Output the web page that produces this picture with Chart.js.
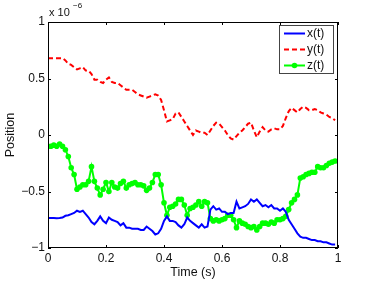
<!DOCTYPE html>
<html>
<head>
<meta charset="utf-8">
<script src="https://cdn.jsdelivr.net/npm/chart.js@4.4.1/dist/chart.umd.min.js"></script>
<style>
  html, body { margin: 0; padding: 0; background: #fff; }
  #wrap { width: 374px; height: 281px; }
</style>
</head>
<body>
<div id="wrap"><canvas id="posChart" width="374" height="281"></canvas></div>
<script>
// sample times (s)
const timeS = [0.00,0.01,0.02,0.03,0.04,0.05,0.06,0.07,0.08,0.09,
               0.10,0.11,0.12,0.13,0.14,0.15,0.16,0.17,0.18,0.19,
               0.20,0.21,0.22,0.23,0.24,0.25,0.26,0.27,0.28,0.29,
               0.30,0.31,0.32,0.33,0.34,0.35,0.36,0.37,0.38,0.39,
               0.40,0.41,0.42,0.43,0.44,0.45,0.46,0.47,0.48,0.49,
               0.50,0.51,0.52,0.53,0.54,0.55,0.56,0.57,0.58,0.59,
               0.60,0.61,0.62,0.63,0.64,0.65,0.66,0.67,0.68,0.69,
               0.70,0.71,0.72,0.73,0.74,0.75,0.76,0.77,0.78,0.79,
               0.80,0.81,0.82,0.83,0.84,0.85,0.86,0.87,0.88,0.89,
               0.90,0.91,0.92,0.93,0.94,0.95,0.96,0.97,0.98,0.99];

// positions in units of 1e-6
const xPos = [-0.735,-0.735,-0.735,-0.737,-0.735,-0.73,-0.715,-0.71,-0.70,-0.69,
              -0.67,-0.68,-0.67,-0.70,-0.73,-0.77,-0.79,-0.76,-0.72,-0.76,
              -0.78,-0.73,-0.75,-0.76,-0.77,-0.80,-0.78,-0.82,-0.82,-0.83,
              -0.83,-0.83,-0.84,-0.84,-0.81,-0.83,-0.85,-0.88,-0.87,-0.83,
              -0.76,-0.72,-0.76,-0.76,-0.77,-0.80,-0.82,-0.79,-0.73,-0.76,
              -0.78,-0.80,-0.82,-0.79,-0.82,-0.81,-0.66,-0.63,-0.66,-0.65,
              -0.68,-0.68,-0.70,-0.69,-0.69,-0.59,-0.65,-0.64,-0.63,-0.61,
              -0.57,-0.59,-0.57,-0.60,-0.63,-0.62,-0.64,-0.62,-0.65,-0.65,
              -0.67,-0.65,-0.68,-0.75,-0.79,-0.83,-0.87,-0.90,-0.91,-0.91,
              -0.92,-0.93,-0.93,-0.94,-0.94,-0.95,-0.95,-0.96,-0.97,-0.97];

const yPos = [0.68,0.68,0.68,0.68,0.68,0.68,0.66,0.63,0.62,0.60,
              0.58,0.59,0.60,0.57,0.57,0.54,0.49,0.49,0.47,0.46,
              0.49,0.51,0.47,0.46,0.46,0.44,0.42,0.40,0.40,0.40,
              0.38,0.36,0.35,0.34,0.33,0.34,0.35,0.36,0.35,0.31,
              0.22,0.12,0.13,0.14,0.19,0.20,0.16,0.12,0.08,0.04,
              0.00,0.04,0.03,0.02,0.02,0.00,0.04,0.08,0.11,0.10,
              0.07,0.04,0.00,-0.03,-0.04,-0.01,0.02,0.04,0.07,0.10,
              0.11,0.04,-0.02,0.03,0.07,0.04,0.03,0.05,0.06,0.05,
              0.05,0.08,0.15,0.21,0.24,0.22,0.20,0.23,0.25,0.24,
              0.22,0.22,0.23,0.22,0.20,0.19,0.18,0.16,0.15,0.13];

const zPos = [-0.10,-0.10,-0.09,-0.10,-0.08,-0.10,-0.13,-0.19,-0.29,-0.35,
              -0.48,-0.46,-0.44,-0.44,-0.41,-0.28,-0.41,-0.47,-0.53,-0.48,
              -0.42,-0.50,-0.42,-0.46,-0.47,-0.43,-0.41,-0.47,-0.44,-0.43,
              -0.42,-0.44,-0.44,-0.45,-0.49,-0.47,-0.42,-0.35,-0.35,-0.44,
              -0.60,-0.71,-0.64,-0.63,-0.61,-0.57,-0.57,-0.62,-0.71,-0.65,
              -0.64,-0.62,-0.59,-0.63,-0.59,-0.60,-0.74,-0.76,-0.75,-0.76,
              -0.75,-0.74,-0.71,-0.71,-0.75,-0.82,-0.76,-0.78,-0.79,-0.81,
              -0.82,-0.81,-0.84,-0.81,-0.78,-0.78,-0.79,-0.77,-0.78,-0.75,
              -0.75,-0.74,-0.72,-0.66,-0.60,-0.57,-0.53,-0.38,-0.37,-0.35,
              -0.34,-0.33,-0.33,-0.28,-0.29,-0.29,-0.27,-0.25,-0.24,-0.23];

const seriesNames = ['x(t)', 'y(t)', 'z(t)'];
const xTicks = [0, 0.2, 0.4, 0.6, 0.8, 1];
const yTicks = [-1, -0.5, 0, 0.5, 1];

const FONT = '"Liberation Sans", Arial, Helvetica, sans-serif';

function pts(vals) {
    return vals.map((v, i) => ({ x: timeS[i], y: v }));
}

function fmt(v) {
    const r = Number(v.toFixed(1));
    if (r === 0) return '0';
    return r < 0 ? '\u2212' + Math.abs(r) : String(r);
}

// box round the plot, with MATLAB style ticks pointing inwards
const axesBox = {
    id: 'axesBox',
    afterDatasetsDraw(chart) {
        const { ctx, chartArea: a, scales } = chart;
        ctx.save();
        ctx.strokeStyle = '#000';
        ctx.lineWidth = 1;
        ctx.strokeRect(Math.round(a.left) + 0.5, Math.round(a.top) + 0.5,
            Math.round(a.right - a.left) - 1, Math.round(a.bottom - a.top) - 1);
        ctx.beginPath();
        const len = 3;
        xTicks.forEach(t => {
            const px = Math.round(scales.x.getPixelForValue(t)) + 0.5;
            ctx.moveTo(px, a.bottom); ctx.lineTo(px, a.bottom - len);
            ctx.moveTo(px, a.top); ctx.lineTo(px, a.top + len);
        });
        yTicks.forEach(t => {
            const py = Math.round(scales.y.getPixelForValue(t)) + 0.5;
            ctx.moveTo(a.left, py); ctx.lineTo(a.left + len, py);
            ctx.moveTo(a.right, py); ctx.lineTo(a.right - len, py);
        });
        ctx.stroke();

        // exponent label
        ctx.fillStyle = '#111';
        ctx.textBaseline = 'middle';
        ctx.textAlign = 'left';
        ctx.font = '11px ' + FONT;
        ctx.fillText('x 10', a.left + 1, 13);
        ctx.font = '8px ' + FONT;
        ctx.fillText('\u22126', a.left + 25, 6);
        ctx.restore();
    }
};

// legend drawn in the top right corner of the axes
const boxLegend = {
    id: 'boxLegend',
    afterDraw(chart) {
        const { ctx } = chart;
        const bx = 279.5, by = 25.5, bw = 54, bh = 48;
        ctx.save();
        ctx.fillStyle = '#fff';
        ctx.fillRect(bx, by, bw, bh);
        ctx.strokeStyle = '#444';
        ctx.lineWidth = 1;
        ctx.strokeRect(bx, by, bw, bh);
        ctx.font = '12px ' + FONT;
        ctx.textBaseline = 'middle';
        ctx.textAlign = 'left';
        chart.data.datasets.forEach((ds, i) => {
            const y = 33.5 + i * 16;
            ctx.strokeStyle = ds.borderColor;
            ctx.lineWidth = ds.borderWidth;
            ctx.setLineDash(ds.borderDash || []);
            ctx.beginPath();
            ctx.moveTo(284, y);
            ctx.lineTo(305, y);
            ctx.stroke();
            ctx.setLineDash([]);
            if (ds.pointRadius > 0) {
                ctx.fillStyle = ds.pointBackgroundColor;
                ctx.beginPath();
                ctx.arc(294.5, y, ds.pointRadius, 0, Math.PI * 2);
                ctx.fill();
            }
            ctx.fillStyle = '#111';
            ctx.fillText(ds.label, 307, y + 0.5);
        });
        ctx.restore();
    }
};

const ctx = document.getElementById('posChart');
new Chart(ctx, {
    type: 'line',
    data: {
        datasets: [
            { label: seriesNames[0], data: pts(xPos), borderColor: '#0000ff', borderWidth: 2,
              pointRadius: 0, fill: false, tension: 0 },
            { label: seriesNames[1], data: pts(yPos), borderColor: '#ff0000', borderWidth: 2,
              borderDash: [5, 3], pointRadius: 0, fill: false, tension: 0 },
            { label: seriesNames[2], data: pts(zPos), borderColor: '#00ff00', borderWidth: 2,
              pointRadius: 2.8, pointBackgroundColor: '#00ff00', pointBorderColor: '#00ff00',
              pointBorderWidth: 0, fill: false, tension: 0 }
        ]
    },
    options: {
        responsive: false,
        animation: false,
        devicePixelRatio: 1,
        layout: { padding: { top: 22, right: 36, left: 0, bottom: 0 } },
        plugins: { legend: { display: false }, tooltip: { enabled: false } },
        scales: {
            x: {
                type: 'linear',
                min: 0, max: 1,
                afterFit: s => { s.height = 33; },
                afterBuildTicks: s => { s.ticks = xTicks.map(v => ({ value: v })); },
                grid: { display: false, drawTicks: false },
                border: { display: false },
                ticks: { padding: 3, color: '#111', font: { family: FONT, size: 12 },
                         maxRotation: 0, callback: v => fmt(v) },
                title: { display: true, text: 'Time (s)', color: '#111',
                         font: { family: FONT, size: 12.5 }, padding: { top: 0, bottom: 1 } }
            },
            y: {
                min: -1, max: 1,
                afterFit: s => { s.width = 48; },
                afterBuildTicks: s => { s.ticks = yTicks.map(v => ({ value: v })); },
                grid: { display: false, drawTicks: false },
                border: { display: false },
                ticks: { padding: 3, color: '#111', font: { family: FONT, size: 12 },
                         callback: v => fmt(v) },
                title: { display: true, text: 'Position', color: '#111',
                         font: { family: FONT, size: 12.5 }, padding: { top: 3, bottom: 0 } }
            }
        }
    },
    plugins: [axesBox, boxLegend]
});
</script>
</body>
</html>
